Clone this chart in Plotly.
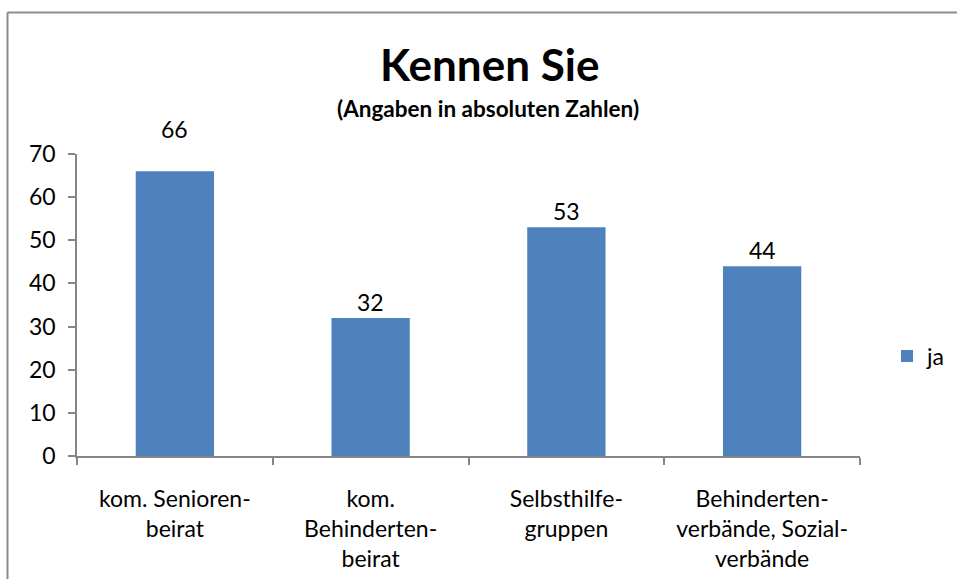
import plotly.graph_objects as go

categories = ["kom. Senioren-<br>beirat", "kom.<br>Behinderten-<br>beirat",
              "Selbsthilfe-<br>gruppen", "Behinderten-<br>verbände, Sozial-<br>verbände"]
values_ja = [66, 32, 53, 44]
series_name = "ja"
y_ticks = [0, 10, 20, 30, 40, 50, 60, 70]

FONT = "Lato"
BAR = "#4F81BD"
AX = "#868686"

# plot area in pixels
L, R, T, B = 77, 860, 154, 456
PW, PH = R - L, B - T


def px(x):
    return (x - L) / PW


def py(y):
    return (B - y) / PH


fig = go.Figure()
fig.add_trace(go.Bar(x=categories, y=values_ja, name=series_name,
                     marker=dict(color=BAR, line=dict(width=0)), width=0.4,
                     hoverinfo="skip"))

label_shift = [26, 0, 0, 0]
for c, v, s in zip(categories, values_ja, label_shift):
    fig.add_annotation(x=c, y=v, text=str(v), showarrow=False, yanchor="bottom",
                       yshift=s, font=dict(family=FONT, size=23, color="#000"))

fig.add_annotation(xref="paper", yref="paper", x=px(489), y=py(64),
                   text="<b>Kennen Sie</b>", showarrow=False, xanchor="center", yanchor="middle",
                   font=dict(family=FONT, size=44, color="#000"))
fig.add_annotation(xref="paper", yref="paper", x=px(488), y=py(108),
                   text="<b>(Angaben in absoluten Zahlen)</b>", showarrow=False,
                   xanchor="center", yanchor="middle",
                   font=dict(family=FONT, size=22.5, color="#000"))

# outer frame (left and top edges visible)
fig.add_shape(type="line", xref="paper", yref="paper", x0=px(7.5), x1=px(1000),
              y0=py(12.5), y1=py(12.5), line=dict(color="#8C8C8C", width=2))
fig.add_shape(type="line", xref="paper", yref="paper", x0=px(7.5), x1=px(7.5),
              y0=py(12.5), y1=py(700), line=dict(color="#8C8C8C", width=2))

fig.update_layout(
    width=957, height=579,
    margin=dict(l=L, r=957 - R, t=T, b=579 - B, autoexpand=False),
    paper_bgcolor="white", plot_bgcolor="white",
    font=dict(family=FONT, size=23, color="#000"),
    showlegend=True,
    legend=dict(x=px(887), y=py(356), xanchor="left", yanchor="middle",
                font=dict(family=FONT, size=23, color="#000"), itemwidth=30),
    bargap=0.6,
)
fig.update_xaxes(showline=True, linecolor=AX, linewidth=1.5, ticks="outside",
                 tickson="boundaries", ticklen=7, tickcolor=AX, tickwidth=1.5,
                 showgrid=False, ticklabelstandoff=22, automargin=False,
                 tickfont=dict(family=FONT, size=23, color="#000"))
fig.update_yaxes(range=[0, 70], tickvals=y_ticks, showline=True, linecolor=AX, linewidth=1.5,
                 ticks="outside", ticklen=7, tickcolor=AX, tickwidth=1.5, showgrid=False,
                 zeroline=False, ticklabelstandoff=8, automargin=False,
                 tickfont=dict(family=FONT, size=23, color="#000"))

fig.write_html(
    "out.html", config={"displayModeBar": False},
    post_script=("document.body.style.margin='0px';"
                 "document.body.style.overflow='hidden';"
                 "document.documentElement.style.overflow='hidden';"))
